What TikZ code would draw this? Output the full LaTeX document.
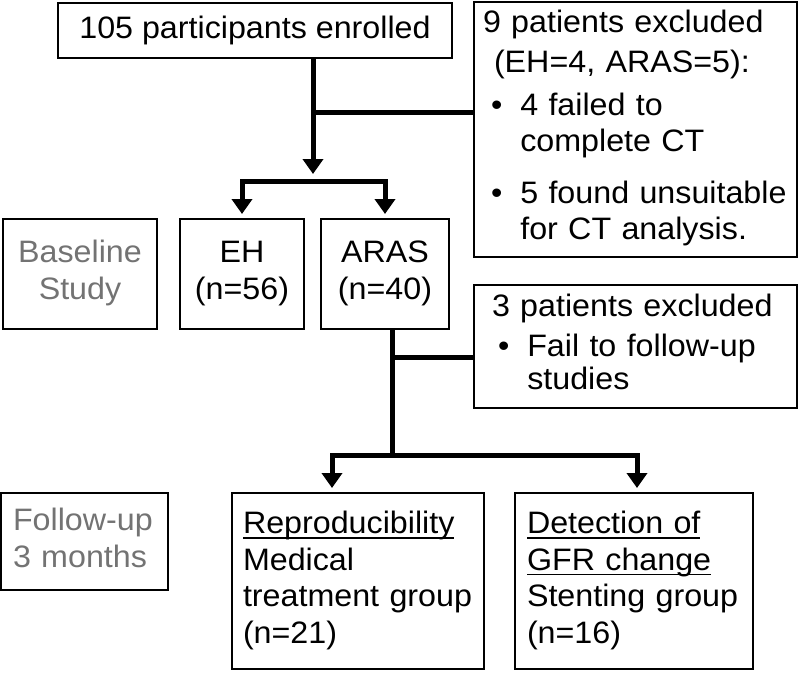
\documentclass[tikz,border=0pt]{standalone}
\usepackage{fontspec}
\setmainfont{Liberation Sans}[FakeStretch=1.04]
\usetikzlibrary{positioning}
\usetikzlibrary{arrows.meta}

\definecolor{labelgray}{gray}{0.45}
\newcommand{\ulabel}[1]{\setbox0\hbox{#1}\rlap{\rule[-5pt]{\wd0}{1.5pt}}\box0}

\tikzset{
	box/.style={draw, line width=2pt, inner sep=0pt, anchor=north west, font=\fontsize{31}{37}\selectfont},
	line/.style={line width=5pt},
	flow/.style={line width=5pt, -{Triangle[width=20pt,length=15pt]}},
}

\begin{document}
\begin{tikzpicture}[x=1pt,y=-1pt]
	\useasboundingbox (0,0) rectangle (800,672);
	%% top row
	\node[box, minimum width=394pt, minimum height=55pt] (enrolled) at (57,2) {105 participants enrolled};
	\node[box, minimum width=323pt, minimum height=255pt, inner xsep=9pt, text width=305pt] (excl1) at (473,1) {%
		\fontsize{31}{33}\selectfont
		\begin{tabular}{@{\hspace{8pt}}l@{\hspace{18pt}}l@{}}
			\multicolumn{2}{@{}l@{}}{9 patients excluded}\\[7pt]
			\multicolumn{2}{@{}l@{}}{\hspace*{11pt}(EH=4, ARAS=5):}\\[10pt]
			\textbullet & 4 failed to\\[3pt]
			& complete CT\\[19pt]
			\textbullet & 5 found unsuitable\\[3pt]
			& for CT analysis.
		\end{tabular}};
	%% baseline study
	\node[box, minimum width=154pt, minimum height=110pt, text=labelgray] (baseline) at (2,218) {%
		\begin{tabular}{@{}c@{}}Baseline\\Study\end{tabular}};
	\node[box, right=21pt of baseline, minimum width=124pt, minimum height=110pt] (eh) {%
		\begin{tabular}{@{}c@{}}EH\\(n=56)\end{tabular}};
	\node[box, right=15pt of eh, minimum width=128pt, minimum height=110pt] (aras) {%
		\begin{tabular}{@{}c@{}}ARAS\\(n=40)\end{tabular}};
	\node[box, below=26pt of excl1, minimum width=323pt, minimum height=123pt, inner xsep=18pt, text width=287pt] (excl2) {%
		\fontsize{31}{33}\selectfont
		\begin{tabular}{@{\hspace{6pt}}l@{\hspace{18pt}}l@{}}
			\multicolumn{2}{@{}l@{}}{3 patients excluded}\\[7pt]
			\textbullet & Fail to follow-up\\
			& studies
		\end{tabular}};
	%% follow-up
	\node[box, minimum width=167pt, minimum height=97pt, inner xsep=12pt, text width=143pt, text=labelgray] (followup) at (0,492) {%
		\begin{tabular}{@{}l@{}}Follow-up\\3 months\end{tabular}};
	\node[box, minimum width=252pt, minimum height=176pt, inner xsep=11pt, text width=230pt] (repro) at (231,492) {%
		\fontsize{31}{36.5}\selectfont
		\begin{tabular}{@{}l@{}}\ulabel{Reproducibility}\\Medical\\treatment group\\(n=21)\end{tabular}};
	\node[box, right=29pt of repro, minimum width=238pt, minimum height=176pt, inner xsep=12pt, text width=214pt] (detect) {%
		\fontsize{31}{36.5}\selectfont
		\begin{tabular}{@{}l@{}}\ulabel{Detection of}\\\ulabel{GFR change}\\Stenting group\\(n=16)\end{tabular}};
	% connectors
	\coordinate (j1) at (313,112);
	\coordinate (bar1) at (313,181);
	\coordinate (j2) at (392,357);
	\coordinate (bar2) at (392,455);
	\draw[line] (enrolled.south -| j1) -- (j1) -- (j1 -| excl1.west);
	\draw[flow] (j1) -- ([yshift=7pt]bar1);
	\draw[flow] (bar1) -| ([yshift=4pt]eh.north);
	\draw[flow] (bar1) -| ([yshift=4pt]aras.north);
	\draw[line] (aras.south -| j2) -- (bar2);
	\draw[line] (j2) -- (j2 -| excl2.west);
	\draw[flow] (bar2) -| ([xshift=-26pt,yshift=4pt]repro.north);
	\draw[flow] (bar2) -| ([xshift=3pt,yshift=4pt]detect.north);
\end{tikzpicture}
\end{document}
